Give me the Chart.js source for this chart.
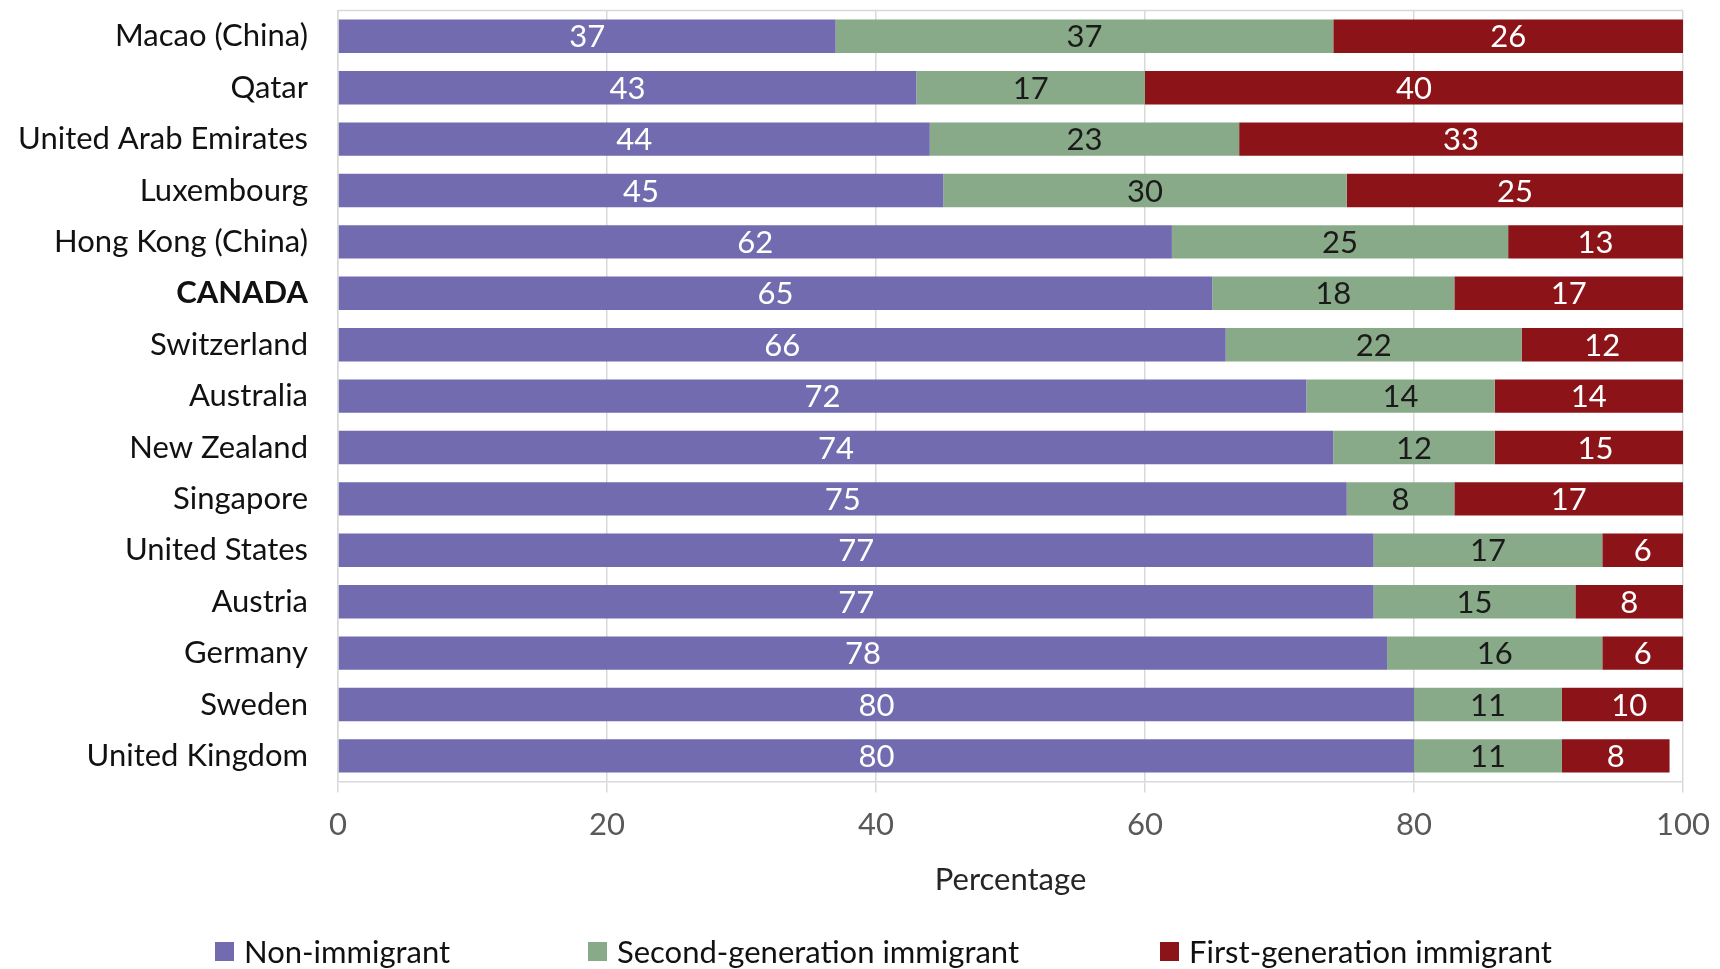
<!DOCTYPE html>
<html>
<head>
<meta charset="utf-8">
<title>Students by immigrant background</title>
<script src="https://cdn.jsdelivr.net/npm/chart.js@4.4.1/dist/chart.umd.min.js"></script>
<style>
  html, body { margin: 0; padding: 0; background: #fff; }
  #wrap { position: relative; width: 1720px; height: 969px; }
  #legend { position: absolute; left: 0; top: 933px; width: 1720px; height: 36px;
    font-family: Lato, sans-serif; font-size: 31px; color: #111; }
  #legend .item { position: absolute; top: 0; display: flex; align-items: center; line-height: 36px; white-space: nowrap; }
  #legend .box { width: 19px; height: 19px; margin-right: 10px; }
</style>
</head>
<body>
<div id="wrap">
  <canvas id="chart" width="1720" height="969"></canvas>
  <div id="legend"></div>
</div>
<script>
// Countries, top to bottom
const countries = ['Macao (China)', 'Qatar', 'United Arab Emirates', 'Luxembourg', 'Hong Kong (China)',
    'CANADA', 'Switzerland', 'Australia', 'New Zealand', 'Singapore', 'United States', 'Austria',
    'Germany', 'Sweden', 'United Kingdom'];

// Percentage of students in each group
const nonImmigrant = [37, 43, 44, 45, 62, 65, 66, 72, 74, 75, 77, 77, 78, 80, 80];
const secondGen = [37, 17, 23, 30, 25, 18, 22, 14, 12, 8, 17, 15, 16, 11, 11];
const firstGen = [26, 40, 33, 25, 13, 17, 12, 14, 15, 17, 6, 8, 6, 10, 8];

const seriesNames = ['Non-immigrant', 'Second-generation immigrant', 'First-generation immigrant'];
const seriesColors = ['#726bb0', '#89aa88', '#8c1419'];
const labelColors = ['#ffffff', '#1a1a1a', '#ffffff'];

const xTicks = [0, 20, 40, 60, 80, 100];

const FONT = 'Lato, sans-serif';
const FONT_SIZE = 31;

// Value labels in the middle of each segment
const segmentLabels = {
    id: 'segmentLabels',
    afterDatasetsDraw(chart) {
        const ctx = chart.ctx;
        ctx.save();
        ctx.font = FONT_SIZE + 'px ' + FONT;
        ctx.textAlign = 'center';
        ctx.textBaseline = 'middle';
        chart.data.datasets.forEach((ds, di) => {
            const meta = chart.getDatasetMeta(di);
            ctx.fillStyle = labelColors[di];
            meta.data.forEach((bar, i) => {
                const cx = (bar.x + bar.base) / 2;
                ctx.fillText(String(ds.data[i]), cx, bar.y + 1);
            });
        });
        ctx.restore();
    }
};

// Thin frame line along the top of the plot
const topFrame = {
    id: 'topFrame',
    beforeDatasetsDraw(chart) {
        const { ctx, chartArea } = chart;
        ctx.save();
        ctx.strokeStyle = '#d9d9d9';
        ctx.lineWidth = 1.5;
        ctx.beginPath();
        ctx.moveTo(chartArea.left, chartArea.top);
        ctx.lineTo(chartArea.right, chartArea.top);
        ctx.stroke();
        ctx.restore();
    }
};

const datasets = [nonImmigrant, secondGen, firstGen].map((values, i) => ({
    label: seriesNames[i],
    data: values,
    backgroundColor: seriesColors[i],
    borderWidth: 0,
    categoryPercentage: 0.65,
    barPercentage: 1
}));

new Chart(document.getElementById('chart').getContext('2d'), {
    type: 'bar',
    data: { labels: countries, datasets: datasets },
    options: {
        indexAxis: 'y',
        responsive: false,
        animation: false,
        layout: { padding: { top: 10, right: 37, bottom: 66, left: 0 } },
        plugins: {
            legend: { display: false },
            tooltip: { enabled: false }
        },
        scales: {
            x: {
                stacked: true,
                min: 0,
                max: 100,
                afterBuildTicks(scale) {
                    scale.ticks = xTicks.map(v => ({ value: v }));
                },
                // the "100" label fits inside the layout padding
                afterFit(scale) { scale.paddingRight = 0; },
                grid: { color: '#d9d9d9', lineWidth: 1.5, tickLength: 11, drawTicks: true },
                border: { color: '#d9d9d9', width: 1.5 },
                ticks: { color: '#595959', font: { family: FONT, size: FONT_SIZE }, padding: 14 },
                title: {
                    display: true,
                    text: 'Percentage',
                    color: '#262626',
                    font: { family: FONT, size: FONT_SIZE },
                    padding: { top: 4, bottom: 4 }
                }
            },
            y: {
                stacked: true,
                afterFit(scale) { scale.width = 338; },
                // label gap comes from tickLength so the top padding stays small
                grid: { display: false, drawTicks: true, tickLength: 38 },
                border: { color: '#d9d9d9', width: 1.5 },
                ticks: {
                    color: '#111',
                    padding: -8,
                    font: ctx => ({
                        family: FONT,
                        size: FONT_SIZE,
                        weight: countries[ctx.index] === 'CANADA' ? 'bold' : 'normal'
                    })
                }
            }
        }
    },
    plugins: [segmentLabels, topFrame]
});

// Legend row under the axis title
const legendLeft = [215, 588, 1160];
const legend = document.getElementById('legend');
seriesNames.forEach((name, i) => {
    const item = document.createElement('div');
    item.className = 'item';
    item.style.left = legendLeft[i] + 'px';
    const box = document.createElement('span');
    box.className = 'box';
    box.style.background = seriesColors[i];
    const txt = document.createElement('span');
    txt.textContent = name;
    item.appendChild(box);
    item.appendChild(txt);
    legend.appendChild(item);
});
</script>
</body>
</html>
